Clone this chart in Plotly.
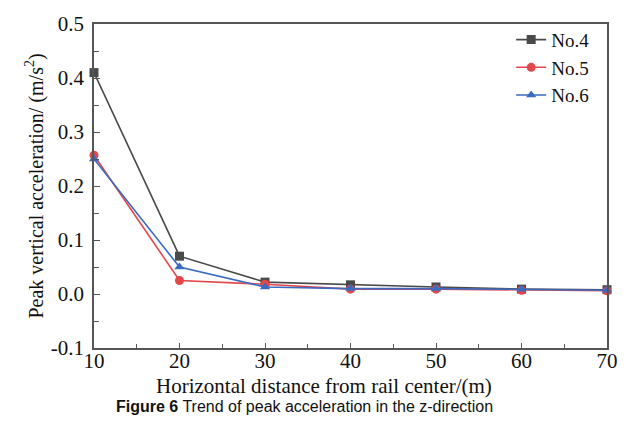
import plotly.graph_objects as go

distance = [10, 20, 30, 40, 50, 60, 70]
no4 = [0.410, 0.070, 0.022, 0.017, 0.013, 0.009, 0.008]
no5 = [0.257, 0.025, 0.018, 0.009, 0.009, 0.007, 0.006]
no6 = [0.250, 0.050, 0.013, 0.010, 0.010, 0.009, 0.007]
series_names = ["No.4", "No.5", "No.6"]
x_ticks = [10, 20, 30, 40, 50, 60, 70]
y_ticks = [-0.1, 0.0, 0.1, 0.2, 0.3, 0.4, 0.5]
y_tick_labels = ["-0.1", "0.0", "0.1", "0.2", "0.3", "0.4", "0.5"]

colors = ["#4a4a4a", "#e3474a", "#3a6bc0"]
symbols = ["square", "circle", "triangle-up"]

fig = go.Figure()
for name, vals, c, s in zip(series_names, [no4, no5, no6], colors, symbols):
    fig.add_trace(go.Scatter(
        x=distance, y=vals, name=name, mode="lines+markers",
        line=dict(color=c, width=1.6),
        marker=dict(symbol=s, size=9, color=c),
        cliponaxis=False,
    ))

serif = "Liberation Serif, Times New Roman, serif"
axis_common = dict(
    showline=True, linecolor="#555555", linewidth=1.6, mirror=True,
    showgrid=False, zeroline=False, ticks="inside", tickcolor="#555555",
    tickwidth=1.3, tickfont=dict(family=serif, size=21, color="#111111"),
)

fig.update_xaxes(
    range=[10, 70], tickvals=x_ticks, ticklen=5, ticklabelstandoff=-7,
    minor=dict(ticks="inside", ticklen=4, dtick=5, tickcolor="#555555", tickwidth=1.3),
    **axis_common,
)
fig.update_yaxes(
    range=[-0.1, 0.5], tickvals=y_ticks, ticktext=y_tick_labels, ticklen=6,
    ticklabelstandoff=4,
    minor=dict(ticks="inside", ticklen=5, dtick=0.05, tick0=0, tickcolor="#555555", tickwidth=1.3),
    title=dict(text="Peak vertical acceleration/ (m/s<sup>2</sup>)",
               font=dict(family=serif, size=20, color="#111111"), standoff=2),
    **axis_common,
)

fig.update_layout(
    width=638, height=425,
    margin=dict(l=94, r=31, t=14, b=77),
    plot_bgcolor="white", paper_bgcolor="white",
    legend=dict(x=0.975, y=1.01, xanchor="right", yanchor="top",
                font=dict(family=serif, size=19, color="#111111"),
                bgcolor="rgba(0,0,0,0)", tracegroupgap=0),
    showlegend=True,
)
fig.add_annotation(
    text="Horizontal distance from rail center/(m)",
    xref="paper", yref="paper", x=0.448, y=-0.117, xanchor="center", yanchor="middle",
    showarrow=False,
    font=dict(family=serif, size=21, color="#111111"),
)
fig.add_annotation(
    text="<b>Figure 6</b> Trend of peak acceleration in the z-direction",
    xref="paper", yref="paper", x=0.41, y=-0.181, xanchor="center", yanchor="middle",
    showarrow=False,
    font=dict(family="Liberation Sans Narrow, Liberation Sans, Arial, sans-serif", size=16, color="#111111"),
)

fig.write_html("out.html")
